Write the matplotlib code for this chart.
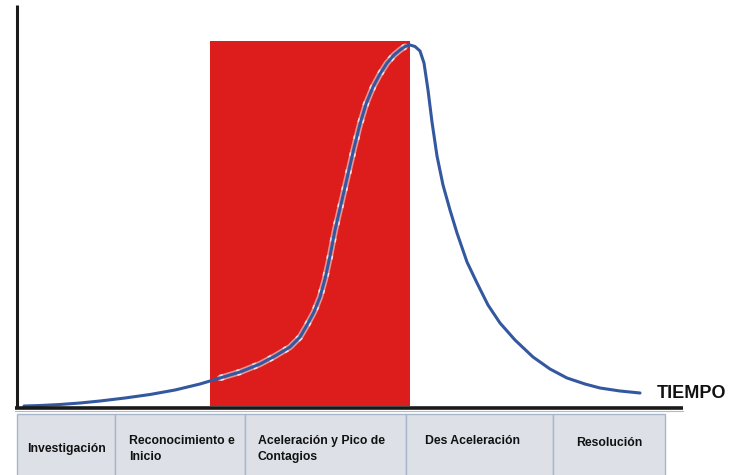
import matplotlib
matplotlib.use("Agg")
import matplotlib.pyplot as plt
from matplotlib.patches import Rectangle

# ---- data (time on x, cases on y; screen-like units) ----
curve_t = [24, 40, 60, 80, 100, 125, 150, 175, 200, 220, 240, 260, 275,
           290, 300, 307, 314, 320, 325, 330, 335, 342, 348, 354, 360, 366,
           373, 380, 387, 394, 400, 405, 410, 415, 420, 424, 428, 432, 437,
           443, 450, 457, 467, 477, 488, 500, 515, 533, 550, 567, 585, 600,
           620, 640]
curve_cases = [2, 2.5, 3.5, 5, 7, 10, 13.5, 18, 24, 30, 36, 44, 52,
               61, 71, 83, 96, 111, 129, 152, 178, 208, 234, 260, 284, 304,
               321, 334, 345, 353, 358, 361.5, 363, 361.5, 357, 345, 318, 286, 252,
               223, 198, 175, 146, 125, 103, 85, 68, 51, 39, 30, 24, 20,
               17, 15]
peak_phase = (210, 410)       # red highlighted phase (time range)
peak_height = 367

phases = ["Investigación", "Reconocimiento e\nInicio",
          "Aceleración y Pico de\nContagios", "Des Aceleración", "Resolución"]
phase_edges = [17, 115, 245, 406, 553, 665]
axis_label = "TIEMPO"

fam = "Liberation Sans"

W, H = 733, 475
BASE = 408  # baseline y (pixels)
fig = plt.figure(figsize=(W / 100, H / 100), dpi=100)
ax = fig.add_axes([0, 0, 1, 1])
ax.set_xlim(0, W)
ax.set_ylim(H, 0)
ax.axis("off")

def yy(v):
    return BASE - v

# red phase block
ax.add_patch(Rectangle((peak_phase[0], yy(peak_height)),
                       peak_phase[1] - peak_phase[0], peak_height - 2,
                       facecolor="#DD1D1B", edgecolor="none", zorder=1))

# curve
ys = [yy(v) for v in curve_cases]
sel = [(t, yy(v)) for t, v in zip(curve_t, curve_cases)
       if peak_phase[0] + 2 <= t <= peak_phase[1] - 4]
ax.plot([p[0] for p in sel], [p[1] for p in sel], color="#E9A3A3", lw=4.5,
        zorder=2, solid_capstyle="round", alpha=0.9)
ax.plot([p[0] for p in sel], [p[1] for p in sel], color="#F6E2E2", lw=4.5,
        ls=(0, (0.6, 2.2)), zorder=2)
ax.plot(curve_t, ys, color="#3458A0", lw=2.2, zorder=3, solid_capstyle="round",
        solid_joinstyle="round")

# axes lines
ax.plot([17, 17], [5, BASE], color="#1a1a1a", lw=2.2, zorder=4, solid_capstyle="butt")
ax.plot([15, 683], [BASE, BASE], color="#1a1a1a", lw=2.6, zorder=4, solid_capstyle="butt")
ax.plot([15, 683], [BASE + 3, BASE + 3], color="#b8b8b8", lw=0.8, zorder=4)

ax.text(657, 393, axis_label, fontsize=13, fontweight="bold", family=fam,
        va="center", ha="left", color="#111111")

# phase table
top, bot = 414, 480
offsets = [10, 14, 13, 19]
for i, name in enumerate(phases):
    x0, x1 = phase_edges[i], phase_edges[i + 1]
    ax.add_patch(Rectangle((x0, top), x1 - x0, bot - top, facecolor="#DDE1E7",
                           edgecolor="#A8B6CC", lw=1.0, zorder=2))
    if i == 4:
        ax.text((x0 + x1) / 2, 443, name, fontsize=8.8, fontweight="bold",
                family=fam, ha="center", va="center", color="#111111")
    else:
        yc = 441 if i == 3 else 449
        ax.text(x0 + offsets[i], yc, name,
                fontsize=8.8, fontweight="bold", family=fam, ha="left",
                va="center", color="#111111", linespacing=1.45)

fig.savefig("out.png", dpi=100)
